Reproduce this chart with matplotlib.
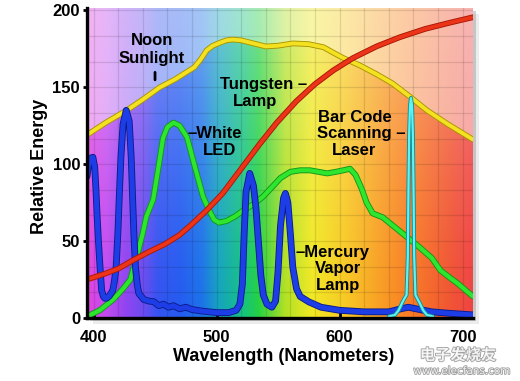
import numpy as np
import matplotlib.pyplot as plt
import matplotlib.patheffects as pe
from matplotlib.colors import LinearSegmentedColormap
from matplotlib.patches import Rectangle

plt.rcParams['font.family'] = ['Liberation Sans', 'DejaVu Sans']
plt.rcParams['font.weight'] = 'bold'

# spectrum colours behind the curves
spec_nm = [394.7, 410, 425, 440, 452, 470, 488, 501, 521, 534, 556, 578, 605, 631, 659, 692, 708.5]
spec_col = ['#e040e0', '#c048f0', '#9040f0', '#6848f0', '#3050f0', '#2058f0', '#1870e8', '#10a0c0',
            '#10c080', '#20d040', '#b0e020', '#f0e820', '#f8c820', '#f8a020', '#f87820', '#f05030', '#f04040']

# noon sunlight (yellow)
sun_nm = [394.7, 410, 427, 440, 454, 466, 476, 482, 487, 492, 497, 503, 508, 513, 520, 530, 540, 550,
          562, 575, 587, 596, 603, 610, 617, 630, 643, 657, 671, 688, 708.5]
sun_val = [119, 127, 135, 142, 150, 155, 160, 163, 168, 174, 177, 179, 180.5, 181, 180.5, 178.5, 176.5, 177,
           178.5, 178, 176, 172, 169, 166.5, 164, 158.5, 152.5, 144, 135, 126, 116]

# tungsten lamp (red)
tung_nm = [394.7, 410, 420, 432, 445, 458, 470, 480, 492, 505, 520, 535, 549, 565, 580, 595, 611, 630,
           649, 670, 690, 708.5]
tung_val = [25, 29, 32, 37.5, 43, 48, 54, 61, 70, 81, 97, 113, 127, 141, 152, 161, 169, 176.5,
            182.5, 188, 192, 195.5]

# white LED (green)
led_nm = [394.7, 405, 416, 424, 430, 436.5, 440, 443, 448.5, 452, 456.5, 460, 465, 470, 476, 482.5, 489,
          494, 498, 502, 508, 515, 522, 530, 538, 545, 552, 560, 568, 576, 583, 590, 597, 603, 608.5,
          613, 618, 622, 627, 635, 645, 655, 665, 675, 682, 690, 696, 708.5]
led_val = [1, 5, 12, 19, 25, 44, 55, 66, 77, 94, 117, 124, 127, 125, 117.5, 98, 79,
           70, 64, 62, 63, 66, 70, 74, 79, 85, 91, 95, 96, 96, 95, 94, 95, 96, 97,
           93, 84, 75, 68, 65.5, 59, 52.5, 46, 39, 31, 26, 22.5, 14]

# mercury vapor lamp (blue)
hg_nm = [394.7, 396, 398, 399.5, 401, 402, 403, 404, 405.3, 406.6, 408, 409.3, 411, 413, 415.7, 417,
         418.4, 419.8, 421, 422.3, 424, 426.6, 429, 430.6, 431.7, 432.8, 434.1, 435.5, 436.8, 440.9,
         445, 449, 453, 457, 461, 465, 470, 475, 480, 488, 500, 510, 516, 519, 521, 522.5, 524, 527,
         530, 532, 534, 536, 538, 541, 545, 548, 550, 552, 554.5, 556, 558, 560, 562, 565, 568, 575,
         585, 600, 620, 640, 650, 656, 662, 675, 690, 708.5]
hg_val = [92, 100, 104, 104.5, 98, 83, 65, 50, 33, 18, 14, 12.8, 13, 14.5, 18, 24,
          33, 55, 80, 105, 126, 135, 128, 105, 80, 55, 33, 22, 16, 12,
          11, 10.6, 8, 9, 7, 8, 6, 7, 5.5, 4.5, 3.5, 3.5, 5, 9, 22, 55, 82, 94,
          86, 72, 50, 28, 15, 9, 7, 11, 30, 60, 78, 81, 75, 55, 33, 19, 14, 10.5,
          7, 5, 4, 4, 6, 7, 6, 4, 3, 2]

# bar code scanning laser (cyan)
laser_nm = [640, 645, 648, 651, 653, 654.5, 655.5, 656, 656.6, 657.3, 658.1, 658.9, 659.6, 660.2, 660.7,
            661.7, 663, 665, 668, 671, 676]
laser_val = [1, 2, 5, 10, 13, 15, 40, 80, 120, 138, 143, 138, 120, 80, 40,
             15, 13, 10, 5, 2, 1]

x_ticks = [400, 500, 600, 700]
y_ticks = [0, 50, 100, 150, 200]

x0, x1 = 394.7, 708.5
y0, y1 = 0, 201.5

fig = plt.figure(figsize=(5.2, 3.81), dpi=100)
fig.patch.set_facecolor('white')
ax = fig.add_axes([87 / 520, 1 - 318 / 381, 386 / 520, 310 / 381])

# drop shadow of the panel
for off, a in [(3, 0.35), (6, 0.15)]:
    fig.patches.append(Rectangle((87 / 520 + off / 520, 1 - 318 / 381 - off / 381), 386 / 520, 310 / 381,
                                 transform=fig.transFigure, color='#808080', alpha=a, zorder=-5, lw=0))

# background gradient: pale above the sunlight curve, vivid below it
pos = [(v - x0) / (x1 - x0) for v in spec_nm]
cmap = LinearSegmentedColormap.from_list('spec', list(zip(pos, spec_col)))
base = cmap(np.linspace(0, 1, 700))[:, :3][None, :, :]
vv = np.linspace(y0, y1, 300)[:, None, None]
w_hi = 0.48 + 0.12 * (vv / 200)
w_lo = 0.02 + 0.38 * (vv / 200) ** 1.6
high = base * (1 - w_hi) + w_hi
low = base * (1 - w_lo) + w_lo
ax.imshow(high, extent=[x0, x1, y0, y1], origin='lower', aspect='auto', zorder=0)
im = ax.imshow(low, extent=[x0, x1, y0, y1], origin='lower', aspect='auto', zorder=0.1)
under = ax.fill_between(sun_nm, 0, sun_val, color='none', lw=0)
im.set_clip_path(under.get_paths()[0], transform=ax.transData)

for g in np.arange(400, 709, 20):
    ax.axvline(g, color='#000000', alpha=0.11, lw=0.9, zorder=0.5)
for g in np.arange(200 / 12, 201, 200 / 12):
    ax.axhline(g, color='#000000', alpha=0.11, lw=0.9, zorder=0.5)


def curve(x, y, col, edge, lw, z):
    ax.plot(x, y, color=col, lw=lw, zorder=z, solid_capstyle='round', solid_joinstyle='round',
            path_effects=[pe.Stroke(linewidth=lw + 1.3, foreground=edge), pe.Normal()])


curve(sun_nm, sun_val, '#f4e222', '#a89400', 2.8, 3)
curve(led_nm, led_val, '#2ee62e', '#12961a', 3.0, 4)
curve(hg_nm, hg_val, '#1d3ee6', '#0c1c8c', 3.6, 5)
curve(laser_nm, laser_val, '#5ff4f4', '#138c96', 1.6, 6)
curve(tung_nm, tung_val, '#ec3418', '#a81808', 2.8, 7)

ax.set_xlim(x0, x1)
ax.set_ylim(y0, y1)
ax.set_xticks(x_ticks)
ax.set_yticks(y_ticks)
ax.tick_params(axis='x', direction='in', length=4, width=2, pad=9, labelsize=12)
ax.tick_params(axis='y', direction='out', length=3, width=2, pad=2, labelsize=12)
for s in ['top', 'right']:
    ax.spines[s].set_visible(False)
for s in ['left', 'bottom']:
    ax.spines[s].set_linewidth(2.4)
    ax.spines[s].set_zorder(10)

fig.text(40 / 520, 1 - 166 / 381, 'Relative Energy', rotation=90, ha='center', va='center', fontsize=13)
fig.text(284 / 520, 1 - 361 / 381, 'Wavelength (Nanometers)', ha='center', va='baseline', fontsize=13)

tk = dict(fontsize=12, color='black', zorder=12, va='center')
ax.text(447.6, 180.5, 'Noon', ha='center', **tk)
ax.text(447.6, 168.8, 'Sunlight', ha='center', **tk)
ax.annotate('', xy=(450, 153), xytext=(450, 161.5), arrowprops=dict(arrowstyle='-', lw=2, color='black'), zorder=12)
ax.text(502.8, 152, 'Tungsten –', ha='left', **tk)
ax.text(531.3, 141, 'Lamp', ha='center', **tk)
ax.text(476.5, 120, '–White', ha='left', **tk)
ax.text(502.4, 109, 'LED', ha='center', **tk)
ax.text(612.2, 130.5, 'Bar Code', ha='center', **tk)
ax.text(581.7, 120, 'Scanning –', ha='left', **tk)
ax.text(612.2, 109, 'Laser', ha='center', **tk)
ax.text(563.8, 42.9, '–Mercury', ha='left', **tk)
ax.text(598.4, 32.5, 'Vapor', ha='center', **tk)
ax.text(598.4, 21.4, 'Lamp', ha='center', **tk)

# site watermark
wm = [pe.Stroke(linewidth=1.2, foreground='#909090'), pe.Normal()]
fig.text(458 / 520, 1 - 355 / 381, '电子发烧友', family=['Noto Sans CJK SC', 'DejaVu Sans'], fontsize=11,
         color='white', alpha=0.85, ha='center', va='center', path_effects=wm, zorder=20)
fig.text(462 / 520, 1 - 371 / 381, 'www.elecfans.com', family=['DejaVu Sans'], fontsize=7.5, fontweight='normal',
         color='white', alpha=0.85, ha='center', va='center', path_effects=wm, zorder=20)

fig.savefig('out.png', dpi=100)
